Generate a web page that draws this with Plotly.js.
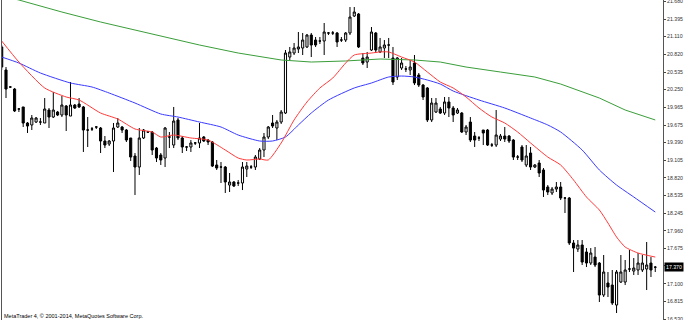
<!DOCTYPE html>
<html><head><meta charset="utf-8">
<script src="https://cdn.plot.ly/plotly-3.0.1.min.js"></script>
<style>html,body{margin:0;padding:0;background:#fff;}#chart{width:685px;height:320px;}</style>
</head><body><div id="chart"></div>
<script>
const openP = [20.942,20.569,20.293,20.260,19.936,19.969,19.709,19.677,19.725,19.725,
19.709,19.920,19.806,19.887,19.839,19.985,19.822,20.001,20.017,19.969,
19.595,19.612,19.644,19.628,19.417,19.368,19.417,19.644,19.644,19.595,
19.466,19.174,18.995,19.466,19.563,19.563,19.303,19.190,19.141,19.482,
19.352,19.758,19.466,19.320,19.320,19.385,19.385,19.482,19.433,19.401,
19.028,18.995,18.995,18.703,18.752,18.736,18.736,18.963,18.995,18.995,
19.125,19.271,19.482,19.709,19.628,19.725,19.871,20.779,20.844,20.909,
20.925,20.942,21.136,21.055,21.039,21.039,21.169,21.169,21.169,21.055,
21.055,21.169,21.444,21.477,20.763,20.698,20.893,21.169,20.861,20.925,
20.974,20.763,20.455,20.601,20.585,20.569,20.682,20.487,20.325,20.277,
19.758,19.887,19.936,19.871,20.050,19.952,19.871,19.871,19.563,19.725,
19.498,19.466,19.595,19.595,19.352,19.352,19.449,19.498,19.498,19.433,
19.157,19.320,19.028,19.222,18.995,19.060,18.947,18.671,18.574,18.638,
18.671,18.492,18.492,17.763,17.665,17.730,17.617,17.438,17.535,17.438,
16.919,17.114,17.081,16.757,17.130,17.130,17.341,17.308,17.325,17.325,
17.341,17.438,17.370];
const highP = [20.974,20.617,20.309,20.277,19.952,19.969,19.725,19.839,19.806,19.790,
20.114,19.952,20.212,19.904,20.147,20.001,20.374,20.017,20.114,19.985,
19.806,19.644,19.660,19.644,19.498,19.433,19.709,19.790,19.660,19.612,
19.466,19.222,19.628,19.612,19.579,19.579,19.320,19.222,19.644,19.563,
19.969,19.790,19.498,19.336,19.433,19.401,19.709,19.498,19.449,19.417,
19.109,19.076,19.011,18.898,18.768,18.784,19.076,19.076,19.028,19.190,
19.303,19.547,19.660,19.839,19.758,19.920,20.893,20.942,21.007,21.185,
21.169,21.153,21.169,21.104,21.104,21.331,21.185,21.201,21.185,21.104,
21.185,21.590,21.590,21.493,20.844,20.861,21.266,21.185,21.088,21.055,
21.088,20.942,20.779,20.763,20.633,20.731,20.812,20.520,20.341,20.293,
20.114,20.114,19.969,20.131,20.131,19.985,19.952,19.887,19.677,19.806,
19.563,19.498,19.595,19.612,19.385,19.920,19.531,19.644,19.514,19.449,
19.190,19.352,19.352,19.320,19.044,19.109,18.979,18.703,18.671,18.752,
18.752,18.509,18.509,17.811,17.811,17.811,17.681,17.681,17.698,17.454,
17.568,17.292,17.325,17.325,17.568,17.487,17.649,17.519,17.600,17.568,
17.779,17.535,17.390];
const lowP = [20.569,20.114,20.277,19.887,19.887,19.644,19.547,19.595,19.709,19.677,
19.709,19.628,19.790,19.822,19.806,19.579,19.822,19.936,19.952,19.239,
19.320,19.579,19.612,19.222,19.303,19.336,18.914,19.628,19.547,19.401,
19.093,18.541,18.866,19.449,19.547,19.190,19.076,19.028,18.995,19.303,
19.303,19.433,19.222,19.255,19.239,19.352,19.303,19.401,19.352,18.995,
18.947,18.736,18.574,18.590,18.671,18.687,18.622,18.833,18.963,18.947,
19.109,19.157,19.449,19.628,19.433,19.693,19.855,20.731,20.812,20.844,
20.812,20.925,20.779,20.942,20.990,20.812,21.136,21.136,20.942,21.023,
21.023,21.136,21.428,20.925,20.650,20.601,20.877,20.844,20.844,20.763,
20.763,20.325,20.406,20.569,20.536,20.487,20.325,20.293,20.082,19.725,
19.725,19.871,19.855,19.839,19.806,19.725,19.855,19.547,19.514,19.401,
19.320,19.417,19.352,19.336,19.320,19.320,19.417,19.401,19.385,19.109,
19.109,19.076,18.995,18.947,18.979,18.833,18.509,18.541,18.541,18.590,
18.460,18.249,17.730,17.292,17.617,17.406,17.373,17.406,17.373,16.806,
16.887,16.887,16.757,16.627,17.114,17.081,17.292,17.244,17.244,17.292,
17.000,17.211,17.292];
const closeP = [20.617,20.260,20.293,19.904,19.936,19.709,19.660,19.790,19.790,19.725,
19.936,19.806,19.920,19.839,20.001,19.839,20.001,19.952,19.969,19.595,
19.595,19.612,19.644,19.417,19.352,19.417,19.628,19.709,19.595,19.433,
19.157,18.995,19.466,19.595,19.563,19.271,19.141,19.109,19.628,19.482,
19.741,19.466,19.320,19.320,19.385,19.385,19.466,19.417,19.401,19.011,
18.979,18.995,18.752,18.752,18.687,18.736,18.995,19.011,18.995,19.157,
19.271,19.482,19.644,19.660,19.725,19.887,20.844,20.861,20.925,20.942,
21.055,21.136,20.974,20.974,21.039,21.185,21.169,21.169,21.023,21.055,
21.169,21.428,21.509,20.942,20.682,20.779,21.185,20.893,20.942,20.974,
20.974,20.374,20.763,20.682,20.585,20.617,20.358,20.325,20.131,19.758,
20.033,20.033,19.871,20.050,19.952,19.839,19.920,19.563,19.644,19.433,
19.433,19.466,19.547,19.352,19.352,19.514,19.498,19.449,19.417,19.157,
19.157,19.109,19.174,18.995,19.028,18.898,18.622,18.590,18.638,18.671,
18.492,18.492,17.763,17.681,17.730,17.454,17.438,17.600,17.406,16.919,
17.292,17.049,16.789,17.292,17.292,17.325,17.341,17.357,17.438,17.438,
17.406,17.325,17.370];

// Moving averages (bar index, price)
const redIdx = [0,4,10,15,18,23,27,31,35,37,40,44,48,52,55,57,60,62,65,68,71,74,77,80,82,86,88,90,93,96,99,102,105,108,111,114,117,120,123,127,130,133,136,139,141,143,145,148,152];
const redVal = [21.039,20.698,20.277,20.131,20.082,19.871,19.774,19.612,19.563,19.482,19.514,19.466,19.433,19.271,19.141,19.109,19.125,19.109,19.385,19.758,20.050,20.277,20.439,20.682,20.812,20.844,20.861,20.861,20.779,20.698,20.536,20.374,20.277,20.131,19.952,19.806,19.709,19.563,19.385,19.157,19.028,18.784,18.509,18.298,18.087,17.860,17.698,17.600,17.535];
const blueIdx = [0,4,9,16,21,25,31,37,41,46,51,55,60,63,66,69,72,76,82,86,90,93,96,99,102,105,111,117,123,127,130,135,139,143,147,152];
const blueVal = [20.779,20.682,20.520,20.358,20.293,20.195,20.033,19.855,19.806,19.725,19.644,19.514,19.417,19.417,19.482,19.677,19.871,20.082,20.277,20.358,20.455,20.471,20.455,20.406,20.341,20.228,20.082,19.952,19.790,19.677,19.563,19.271,18.947,18.703,18.509,18.265];
const greenIdx = [0,4,14,23,31,37,46,55,65,72,80,88,96,102,108,116,124,130,139,145,152];
const greenVal = [21.769,21.704,21.509,21.347,21.217,21.120,20.974,20.844,20.731,20.698,20.715,20.747,20.731,20.698,20.617,20.536,20.455,20.341,20.114,19.920,19.758];

const tickVals = [21.680,21.395,21.110,20.820,20.535,20.250,19.965,19.675,19.390,19.105,18.820,18.535,18.245,17.960,17.675,17.390,17.100,16.815,16.530];
// 17.390 sits under the current-price label in the reference, so its text is not visible
const tickText = ['21.680','21.395','21.110','20.820','20.535','20.250','19.965','19.675','19.390','19.105','18.820','18.535','18.245','17.960','17.675','','17.100','16.815','16.530'];
const lastPrice = 17.370;
const footer = 'MetaTrader 4, © 2001-2014, MetaQuotes Software Corp.';

const bars = openP.map((_, i) => i);

const traces = [
  {type:'scatter', mode:'lines', x:greenIdx, y:greenVal, line:{color:'#3a9e3a', width:1}, hoverinfo:'skip'},
  {type:'scatter', mode:'lines', x:blueIdx, y:blueVal, line:{color:'#3a3aff', width:1, shape:'spline', smoothing:0.6}, hoverinfo:'skip'},
  {type:'scatter', mode:'lines', x:redIdx, y:redVal, line:{color:'#ff3a3a', width:1, shape:'spline', smoothing:0.6}, hoverinfo:'skip'},
  {type:'candlestick', x:bars, open:openP, high:highP, low:lowP, close:closeP,
   whiskerwidth:0,
   increasing:{line:{color:'#000', width:1}, fillcolor:'#ffffff'},
   decreasing:{line:{color:'#000', width:1}, fillcolor:'#000000'},
   hoverinfo:'skip'}
];

const layout = {
  width:685, height:320,
  margin:{l:2, r:22, t:0, b:0, pad:0},
  paper_bgcolor:'#fff', plot_bgcolor:'#fff',
  showlegend:false,
  xaxis:{range:[0.07,153.8], visible:false, rangeslider:{visible:false}, fixedrange:true, showgrid:false, zeroline:false},
  yaxis:{range:[16.514,21.704], side:'right', tickmode:'array', tickvals:tickVals, ticktext:tickText,
    ticks:'outside', ticklen:2, tickcolor:'#444', tickwidth:1, ticklabeloverflow:'allow',
    showline:true, mirror:true, linecolor:'#555', linewidth:1,
    showgrid:false, zeroline:false, fixedrange:true, automargin:false,
    tickfont:{family:'Liberation Sans, Arial, sans-serif', size:5.2, color:'#333'}},
  annotations:[
    {xref:'paper', yref:'y', x:1, y:lastPrice, xanchor:'left', yanchor:'middle', showarrow:false,
     text:lastPrice.toFixed(3), bgcolor:'#000', borderpad:1, xshift:1,
     font:{family:'Liberation Sans, Arial, sans-serif', size:5.2, color:'#fff'}},
    {xref:'paper', yref:'paper', x:0, y:0, xanchor:'left', yanchor:'bottom', showarrow:false,
     text:footer, xshift:0, yshift:-1,
     font:{family:'Liberation Sans, Arial, sans-serif', size:5.5, color:'#000'}}
  ]
};

Plotly.newPlot('chart', traces, layout, {displayModeBar:false, staticPlot:true});
</script></body></html>
